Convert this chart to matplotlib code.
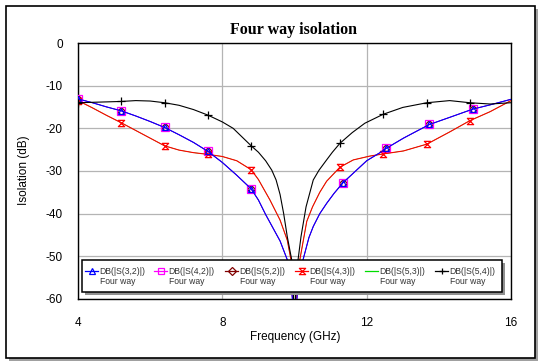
import numpy as np
import matplotlib
matplotlib.use("Agg")
import matplotlib.pyplot as plt
from matplotlib.path import Path
from matplotlib.patches import Rectangle
from matplotlib.lines import Line2D

plt.rcParams["axes.unicode_minus"] = False

# --- Data (frequency in GHz, isolation in dB) ---
freq_a = [4.0, 4.4, 4.8, 5.2, 5.6, 6.0, 6.4, 6.8, 7.2, 7.6, 8.0, 8.4, 8.8,
          9.0, 9.2, 9.4, 9.6, 9.8, 9.9, 9.95, 10.0, 10.05, 10.1, 10.24, 10.4,
          10.52, 10.7, 10.89, 11.1, 11.35, 11.72, 12.0, 12.37, 12.54, 13.02,
          13.4, 13.74, 14.31, 14.94, 15.42, 16.0]
iso_a = [-13.1, -14.0, -15.0, -15.9, -17.1, -18.4, -19.8, -21.5, -23.3, -25.4,
         -28.0, -31.0, -34.2, -36.8, -40.2, -43.3, -46.4, -50.8, -55.5, -61.0,
         -80.0, -62.0, -56.0, -50.7, -45.6, -43.0, -40.0, -37.6, -35.2, -32.7,
         -29.8, -27.6, -25.7, -24.7, -22.3, -20.6, -19.1, -17.4, -15.5, -14.5,
         -13.2]
marks_a = [4.0, 5.2, 6.4, 7.6, 8.8, 11.35, 12.54, 13.74, 14.94]

freq_b = [4.0, 4.4, 4.8, 5.2, 5.6, 6.0, 6.4, 6.8, 7.2, 7.6, 8.0, 8.4, 8.8,
          9.0, 9.32, 9.6, 9.8, 9.9, 9.95, 10.0, 10.05, 10.15, 10.34, 10.5,
          10.7, 10.89, 11.26, 11.63, 12.09, 12.46, 13.02, 13.67, 14.31, 14.86,
          15.42, 16.0]
iso_b = [-13.5, -15.2, -17.0, -18.7, -20.5, -22.3, -24.1, -25.1, -25.7, -26.1,
         -26.6, -27.6, -29.7, -32.0, -36.8, -41.5, -46.2, -50.7, -55.0, -80.0,
         -58.0, -50.7, -41.8, -38.4, -35.0, -32.4, -29.1, -27.4, -26.5, -26.0,
         -25.3, -23.7, -20.8, -18.2, -16.1, -13.5]
marks_b = [4.0, 5.2, 6.4, 7.6, 8.8, 11.26, 12.46, 13.67, 14.86]

freq_c = [4.0, 4.4, 4.8, 5.2, 5.6, 6.0, 6.4, 6.8, 7.2, 7.6, 8.0, 8.3, 8.8,
          9.0, 9.2, 9.37, 9.49, 9.6, 9.7, 9.8, 9.92, 9.97, 10.0, 10.03, 10.1,
          10.18, 10.32, 10.52, 10.68, 10.89, 11.05, 11.26, 11.6, 11.95, 12.46,
          13.0, 13.67, 14.3, 14.86, 15.42, 16.0]
iso_c = [-14.0, -13.9, -13.8, -13.7, -13.5, -13.6, -14.0, -14.6, -15.6, -16.9,
         -18.5, -20.0, -24.1, -25.6, -27.6, -29.8, -32.1, -35.5, -40.0, -45.4,
         -50.7, -56.0, -80.0, -56.0, -50.7, -45.4, -38.4, -32.1, -29.8, -27.4,
         -25.6, -23.5, -21.0, -18.8, -16.7, -15.1, -14.0, -13.5, -14.0, -14.3,
         -14.0]
marks_c = [4.0, 5.2, 6.4, 7.6, 8.8, 11.26, 12.46, 13.67, 14.86]

labels = ["DB(|S(3,2)|)", "DB(|S(4,2)|)", "DB(|S(5,2)|)",
          "DB(|S(4,3)|)", "DB(|S(5,3)|)", "DB(|S(5,4)|)"]
doc_name = "Four way"

x_ticks = [4, 8, 12, 16]
y_ticks = [0, -10, -20, -30, -40, -50, -60]

# hourglass marker used by MWO
hourglass = Path([(-1, 1), (1, 1), (-1, -1), (1, -1), (-1, 1)],
                 [Path.MOVETO, Path.LINETO, Path.LINETO, Path.LINETO, Path.CLOSEPOLY])

# label, freq, values, marker positions, color, marker, size, line width, zorder
series = [
    (labels[2], freq_a, iso_a, marks_a, "#800000", "D", 4, 0.5, 2),
    (labels[1], freq_a, iso_a, marks_a, "#ff00ff", "s", 6, 0.5, 3),
    (labels[0], freq_a, iso_a, marks_a, "#0000ff", "^", 4.5, 0.8, 4),
    (labels[4], freq_b, iso_b, marks_b, "#00dd00", None, 0, 0.4, 2),
    (labels[3], freq_b, iso_b, marks_b, "#ff0000", hourglass, 4.5, 0.8, 3),
    (labels[5], freq_c, iso_c, marks_c, "#000000", "+", 6, 0.8, 5),
]

W, H = 539, 362
fig = plt.figure(figsize=(W / 100, H / 100), dpi=100)

# outer frame with shadow
fig.patches.append(Rectangle((9 / W, 1 - 361 / H), 529 / W, 352 / H,
                             transform=fig.transFigure, facecolor="#a0a0a0",
                             edgecolor="none", zorder=0))
fig.patches.append(Rectangle((6 / W, 1 - 358 / H), 529 / W, 352 / H,
                             transform=fig.transFigure, facecolor="white",
                             edgecolor="black", linewidth=1.2, zorder=1))

ax = fig.add_axes([78 / W, 1 - 299 / H, 433 / W, 256 / H])
ax.set_zorder(2)

handles = {}
for lab, f, v, mk, col, m, ms, lw, z in series:
    idx = [list(f).index(p) for p in mk]
    ax.plot(f, v, color=col, linewidth=lw, marker=m, markersize=ms,
            markevery=idx, markerfacecolor="none", markeredgecolor=col,
            markeredgewidth=0.9, zorder=z)
    handles[lab] = (col, m, ms)

ax.set_xlim(4, 16)
ax.set_ylim(-60, 0)
ax.set_xticks(x_ticks)
ax.set_yticks(y_ticks)
ax.tick_params(length=0, labelsize=8.5)
ax.tick_params(axis="y", pad=11)
ax.tick_params(axis="x", pad=13)
for t in ax.get_xticklabels() + ax.get_yticklabels():
    t.set_fontfamily("Liberation Sans")
ax.grid(True, color="#b4b4b4", linewidth=0.9)
for s in ax.spines.values():
    s.set_linewidth(1.0)

fig.text(293 / W, 1 - 30 / H, "Four way isolation", ha="center", va="center",
         fontsize=11.5, fontweight="bold", family="Liberation Serif")
fig.text(295 / W, 1 - 337 / H, "Frequency (GHz)", ha="center", va="center",
         fontsize=8.5, family="Liberation Sans")
fig.text(24 / W, 1 - 170 / H, "Isolation (dB)", ha="center", va="center",
         rotation=90, fontsize=8.5, family="Liberation Sans")

# --- legend box drawn by hand so the handle sits on the first text line ---
def px(x, y):
    return ((x - 78) / 433, (299 - y) / 256)

x0, y0 = px(82, 292)
x1, y1 = px(502, 260)
sx, sy = px(85, 295)
ax.add_patch(Rectangle((sx, sy), x1 - x0, y1 - y0, transform=ax.transAxes,
                       facecolor="#909090", edgecolor="none", zorder=6,
                       clip_on=False))
ax.add_patch(Rectangle((x0, y0), x1 - x0, y1 - y0, transform=ax.transAxes,
                       facecolor="white", edgecolor="black", linewidth=1.1,
                       zorder=7, clip_on=False))

text_x = [99, 168, 239, 309, 379, 449]
for i, lab in enumerate(labels):
    col, m, ms = handles[lab]
    hx0, hy = px(text_x[i] - 14, 271)
    hx1, _ = px(text_x[i] - 1, 271)
    ax.add_line(Line2D([hx0, hx1], [hy, hy], transform=ax.transAxes, color=col,
                       linewidth=0.9, zorder=8, clip_on=False))
    if m is not None:
        ax.add_line(Line2D([(hx0 + hx1) / 2], [hy], transform=ax.transAxes,
                           marker=m, markersize=min(ms, 5), markerfacecolor="none",
                           markeredgecolor=col, markeredgewidth=0.9,
                           linestyle="none", zorder=8, clip_on=False))
    tx, ty1 = px(text_x[i], 271)
    _, ty2 = px(text_x[i] + 1, 282)
    ax.text(tx, ty1, lab, transform=ax.transAxes, fontsize=6.2,
            family="Liberation Sans", ha="left", va="center", zorder=9,
            color="#333333")
    ax.text(tx + 1 / 433, ty2, doc_name, transform=ax.transAxes, fontsize=6.2,
            family="Liberation Sans", ha="left", va="center", zorder=9,
            color="#333333")

fig.savefig("out.png", dpi=100)
